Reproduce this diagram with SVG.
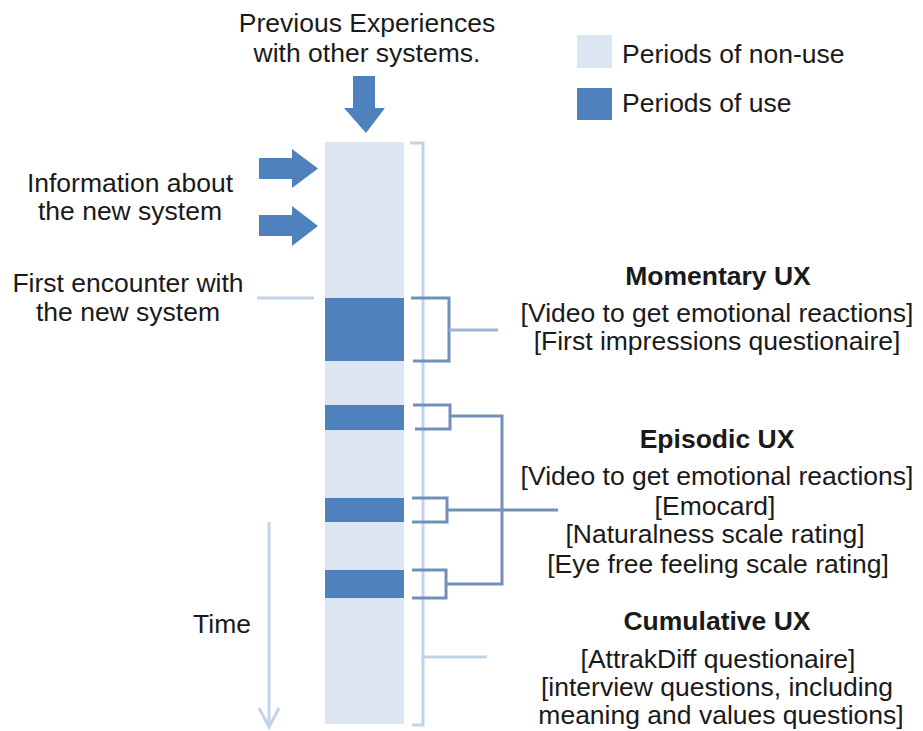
<svg xmlns="http://www.w3.org/2000/svg" width="923" height="731" viewBox="0 0 923 731">
<style>
text{font-family:"Liberation Sans",Arial,sans-serif;font-size:26.5px;fill:#1a1a1a;text-anchor:middle}
.b{font-weight:bold}
.l{text-anchor:start}
.light{fill:#dce6f2}
.dark{fill:#4f81bd}
.br{fill:none;stroke:#7391b8;stroke-width:3;stroke-linejoin:miter}
.lt{fill:none;stroke:#c3d4e9;stroke-width:3}
</style>
<rect width="923" height="731" fill="#fff"/>
<g id="timeline">
<rect class="light" x="325" y="142" width="79" height="582"/>
<rect class="dark" x="325" y="298" width="79" height="63"/>
<rect class="dark" x="325" y="405" width="79" height="25"/>
<rect class="dark" x="325" y="498" width="79" height="24"/>
<rect class="dark" x="325" y="570" width="79" height="28"/>
</g>
<g id="legend">
<rect class="light" x="577" y="35" width="35" height="33"/>
<text class="l" x="622" y="63">Periods of non-use</text>
<rect class="dark" x="577" y="88" width="35" height="32"/>
<text class="l" x="622" y="112">Periods of use</text>
</g>
<g id="inputs">
<text x="367" y="32">Previous Experiences</text>
<text x="367" y="62">with other systems.</text>
<polygon class="dark" points="353,76 375,76 375,108 385,108 366,133 344,108 353,108"/>
<text x="130" y="192">Information about</text>
<text x="130" y="220">the new system</text>
<polygon class="dark" points="259,158 292,158 292,149 318,168.5 292,188 292,179 259,179"/>
<polygon class="dark" points="259,215 292,215 292,206 318,226 292,246 292,236 259,236"/>
<text x="128" y="292">First encounter with</text>
<text x="128" y="321">the new system</text>
<line class="lt" x1="257" y1="298" x2="314" y2="298"/>
</g>
<g id="time">
<text x="222" y="633">Time</text>
<line class="lt" x1="269" y1="522" x2="269" y2="727"/>
<polyline class="lt" points="259,708 269,727 279,708"/>
</g>
<g id="connectors">
<polyline class="lt" points="410,143 423,143 423,725 412,725"/>
<line class="lt" x1="423" y1="657" x2="487" y2="657"/>
<polyline class="br" points="411,298 449,298 449,361 413,361"/>
<line class="lt" x1="449" y1="330" x2="498" y2="330" style="stroke:#9fb6d4"/>
<polyline class="br" points="413,405 450,405 450,429 415,429"/>
<polyline class="br" points="412,498 447,498 447,522 412,522"/>
<polyline class="br" points="412,570 446,570 446,598 412,598"/>
<polyline class="br" points="450,416 502,416 502,584 446,584"/>
<line class="br" x1="447" y1="510" x2="558" y2="510"/>
</g>
<g id="momentary">
<text class="b" x="718" y="285">Momentary UX</text>
<text x="717" y="322">[Video to get emotional reactions]</text>
<text x="717" y="350">[First impressions questionaire]</text>
</g>
<g id="episodic">
<text class="b" x="717" y="448">Episodic UX</text>
<text x="717" y="485">[Video to get emotional reactions]</text>
<text x="715" y="515">[Emocard]</text>
<text x="715" y="543">[Naturalness scale rating]</text>
<text x="718" y="573">[Eye free feeling scale rating]</text>
</g>
<g id="cumulative">
<text class="b" x="717" y="630">Cumulative UX</text>
<text x="718" y="668">[AttrakDiff questionaire]</text>
<text x="717" y="696">[interview questions, including</text>
<text x="721" y="724">meaning and values questions]</text>
</g>
</svg>
